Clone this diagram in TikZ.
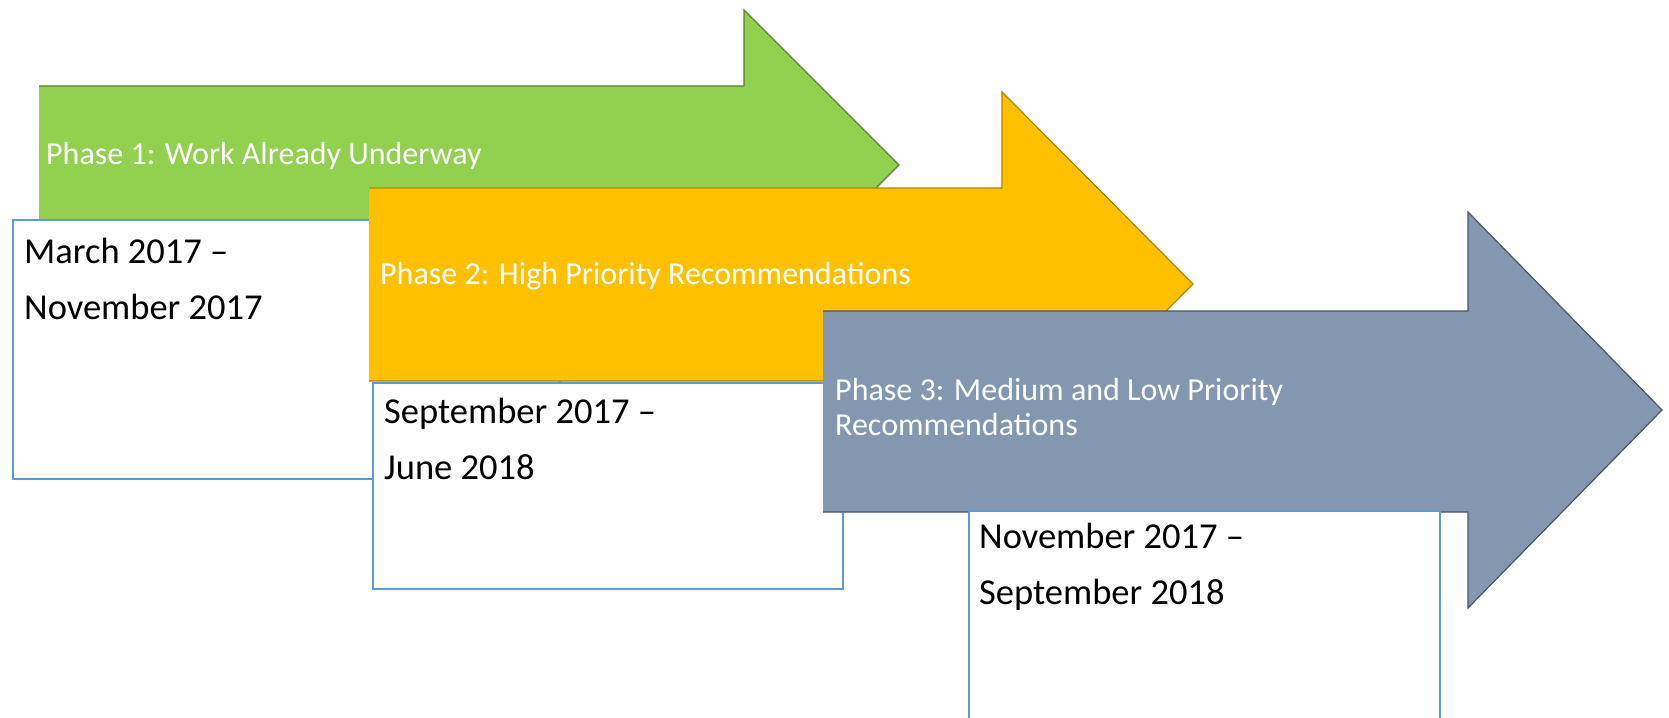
\documentclass[tikz,border=0pt]{standalone}
\usepackage{fontspec}
\setmainfont{Carlito}
\definecolor{pgreen}{HTML}{92D050}
\definecolor{pgreenline}{HTML}{5A7F30}
\definecolor{porange}{HTML}{FFC000}
\definecolor{porangeline}{HTML}{B38600}
\definecolor{pgray}{HTML}{8497B0}
\definecolor{pgrayline}{HTML}{4A5566}
\definecolor{boxblue}{HTML}{5B9BD5}
\begin{document}
\begin{tikzpicture}[x=1pt,y=-1pt]
\tikzset{
  phasetext/.style={anchor=base west, inner sep=0pt, text=white, font=\fontsize{32}{34}\selectfont},
  datetext/.style={anchor=base west, inner sep=0pt, text=black, font=\fontsize{36.5}{40}\selectfont},
  datebox/.style={draw=boxblue, line width=2pt, fill=white},
  arrowline/.style={line width=1.2pt, line join=miter}
}
\useasboundingbox (0,0) rectangle (1669,717);
% Phase 1 arrow
\fill[pgreen] (39,86) -- (744,86) -- (744,10) -- (899,165) -- (744,320) -- (744,244) -- (39,244) -- cycle;
\draw[arrowline, pgreenline] (39,86) -- (744,86) -- (744,10) -- (899,165) -- (744,320) -- (744,244) -- (39,244);
\node[phasetext] (p1) at (46,164) {Phase 1: Work Already Underway};
% box 1
\draw[datebox] (12.5,220) rectangle (560,479);
\node[datetext] (d1a) at (24,263) {March 2017 –};
\node[datetext] (d1b) at (24,319) {November 2017};
% Phase 2 arrow
\fill[porange] (369,188) -- (1002,188) -- (1002,92) -- (1193,284) -- (1002,476) -- (1002,381) -- (369,381) -- cycle;
\draw[arrowline, porangeline] (369,188) -- (1002,188) -- (1002,92) -- (1193,284) -- (1002,476) -- (1002,381) -- (369,381);
\node[phasetext] (p2) at (380,284) {Phase 2: High Priority Recommendations};
% box 2
\draw[datebox] (373,383) rectangle (843,589);
\node[datetext] (d2a) at (384,423) {September 2017 –};
\node[datetext] (d2b) at (384,479) {June 2018};
% Phase 3 arrow
\fill[pgray] (823,311) -- (1468,311) -- (1468,212) -- (1662,410) -- (1468,608) -- (1468,512) -- (823,512) -- cycle;
\draw[arrowline, pgrayline] (823,311) -- (1468,311) -- (1468,212) -- (1662,410) -- (1468,608) -- (1468,512) -- (823,512);
\node[phasetext] (p3a) at (835,400) {Phase 3: Medium and Low Priority};
\node[phasetext] (p3b) at (835,435) {Recommendations};
% box 3
\draw[datebox] (969,511) rectangle (1440,760);
\node[datetext] (d3a) at (979,548) {November 2017 –};
\node[datetext] (d3b) at (979,604) {September 2018};
\end{tikzpicture}
\end{document}
